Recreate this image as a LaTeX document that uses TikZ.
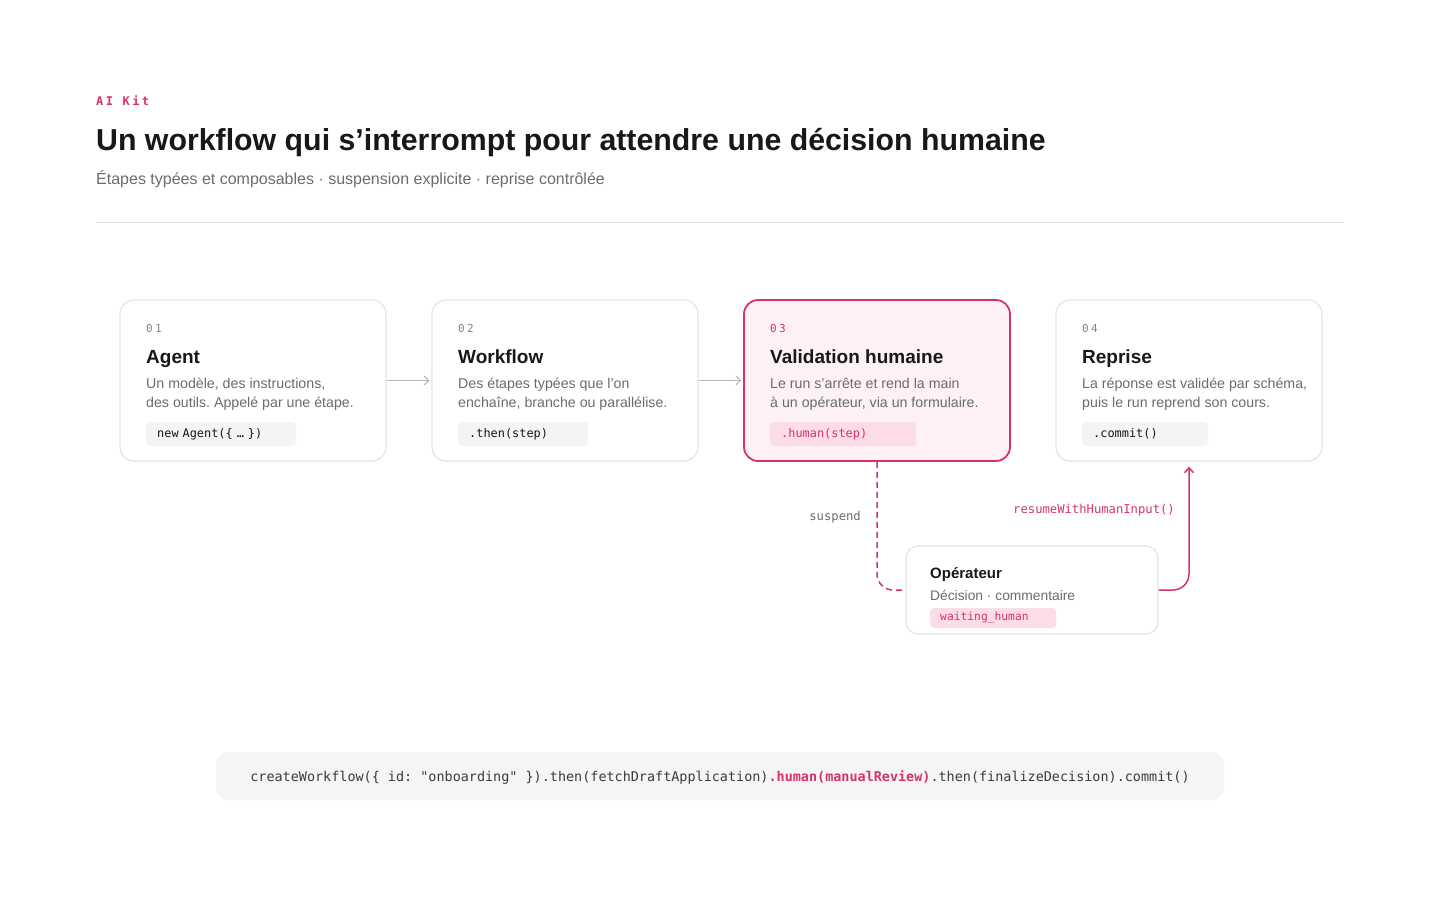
\documentclass[tikz,border=0pt]{standalone}
\usepackage{fontspec}
\usepackage{xcolor}
\setmainfont{Liberation Sans}
\newfontfamily\codefont{DejaVu Sans Mono}
\newfontfamily\trackfont[LetterSpace=20]{DejaVu Sans Mono}
\usetikzlibrary{arrows.meta}
\frenchspacing
\definecolor{wfaccent}{HTML}{D6336C}
\definecolor{wfink}{HTML}{18181B}
\definecolor{wfmuted}{HTML}{6B6B73}
\definecolor{wfnum}{HTML}{85858D}
\definecolor{wfborder}{HTML}{E4E4E7}
\definecolor{wfchip}{HTML}{F4F4F6}
\definecolor{wfpinkfill}{HTML}{FDF1F5}
\definecolor{wfpinkchip}{HTML}{FBDCE7}
\definecolor{wfarrow}{HTML}{B4B4BB}
\definecolor{wfbar}{HTML}{F5F5F7}

\begin{document}
\begin{tikzpicture}[x=1pt, y=-1pt,
    card/.style={draw=wfborder, line width=1.2pt, fill=white, rounded corners=14pt, minimum width=266pt, minimum height=161pt, inner sep=0pt},
    humancard/.style={card, draw=wfaccent, fill=wfpinkfill, line width=1.8pt},
    opcard/.style={card, minimum width=252pt, minimum height=88pt, rounded corners=12pt},
    stepnum/.style={anchor=base west, inner sep=0pt, text=wfnum, font=\trackfont\fontsize{11}{13}\selectfont},
    steptitle/.style={anchor=base west, inner sep=0pt, text=wfink, font=\bfseries\fontsize{19}{23}\selectfont},
    stepdesc/.style={anchor=north west, inner sep=0pt, align=left, text=wfmuted, font=\fontsize{14.2}{19.5}\selectfont},
    chip/.style={anchor=west, fill=wfchip, rounded corners=4pt, minimum height=24pt, inner xsep=11pt, inner ysep=0pt, align=left, text width=#1, text=wfink, font=\codefont\fontsize{11.9}{14}\selectfont},
    humanchip/.style={chip=#1, fill=wfpinkchip, text=wfaccent},
    flow/.style={-{Straight Barb[length=4.5pt,width=9pt]}, wfarrow, line width=1pt, shorten >=2pt},
    suspendline/.style={wfaccent, line width=1.5pt, dash pattern=on 6pt off 4pt, rounded corners=16pt, shorten >=3pt},
    resumeline/.style={-{Straight Barb[length=5pt,width=9pt]}, wfaccent, line width=1.5pt, rounded corners=16pt, shorten >=5pt},
    edgelabel/.style={anchor=base east, inner sep=0pt, font=\codefont\fontsize{12.2}{14}\selectfont}
  ]
  \useasboundingbox (0,0) rectangle (1440,900);

  % Header
  \node[anchor=base west, inner sep=0pt, text=wfaccent, font=\trackfont\bfseries\fontsize{12}{14}\selectfont] (kicker) at (96,105.5) {AI Kit};
  \node[anchor=base west, inner sep=0pt, text=wfink, font=\bfseries\fontsize{30.3}{34}\selectfont] (title) at (96,150) {Un workflow qui s’interrompt pour attendre une décision humaine};
  \node[anchor=base west, inner sep=0pt, text=wfmuted, font=\fontsize{16}{19}\selectfont] (subtitle) at (96,184) {Étapes typées et composables · suspension explicite · reprise contrôlée};
  \draw[wfborder, line width=1pt] (96,222) -- (1344,222);

  % Cards
  \node[card] (agent) at (253,380.5) {};
  \node[card] (workflow) at (565,380.5) {};
  \node[humancard] (human) at (877,380.5) {};
  \node[card] (reprise) at (1189,380.5) {};

  % 01 Agent
  \node[stepnum] (agentnum) at (146,332) {01};
  \node[steptitle] (agenttitle) at (146,363) {Agent};
  \node[stepdesc] (agentdesc) at (146,377.5) {Un modèle, des instructions,\\des outils. Appelé par une étape.};
  \node[chip=128pt] (agentcode) at (146,434) {new Agent(\{ … \})};

  % 02 Workflow
  \node[stepnum] (workflownum) at (458,332) {02};
  \node[steptitle] (workflowtitle) at (458,363) {Workflow};
  \node[stepdesc] (workflowdesc) at (458,377.5) {Des étapes typées que l’on\\enchaîne, branche ou parallélise.};
  \node[chip=108pt] (workflowcode) at (458,434) {.then(step)};

  % 03 Validation humaine
  \node[stepnum, text=wfaccent] (humannum) at (770,332) {03};
  \node[steptitle] (humantitle) at (770,363) {Validation humaine};
  \node[stepdesc] (humandesc) at (770,377.5) {Le run s’arrête et rend la main\\à un opérateur, via un formulaire.};
  \node[humanchip=124pt] (humancode) at (770,434) {.human(step)};

  % 04 Reprise
  \node[stepnum] (reprisenum) at (1082,332) {04};
  \node[steptitle] (reprisetitle) at (1082,363) {Reprise};
  \node[stepdesc] (reprisedesc) at (1082,377.5) {La réponse est validée par schéma,\\puis le run reprend son cours.};
  \node[chip=104pt] (reprisecode) at (1082,434) {.commit()};

  % Flow between cards
  \draw[flow] (agent) -- (workflow);
  \draw[flow] (workflow) -- (human);

  % Operator
  \node[opcard] (operator) at (1032,590) {};
  \node[anchor=base west, inner sep=0pt, text=wfink, font=\bfseries\fontsize{15}{18}\selectfont] (operatortitle) at (930,578.5) {Opérateur};
  \node[anchor=base west, inner sep=0pt, text=wfmuted, font=\fontsize{13.8}{16}\selectfont] (operatordesc) at (930,600) {Décision · commentaire};
  \node[humanchip=106pt, inner xsep=10pt, minimum height=20pt, font=\codefont\fontsize{11.3}{13}\selectfont] (operatorstate) at (930,618) {waiting\_human};

  % Suspend / resume
  \draw[suspendline] (human.south) |- (operator.west);
  \node[edgelabel, text=wfmuted] (suspendlabel) at (861,520) {suspend};
  \draw[resumeline] (operator.east) -| (reprise.south);
  \node[edgelabel, text=wfaccent] (resumelabel) at (1175,513.5) {resumeWithHumanInput()};

  % Code line
  \node[fill=wfbar, rounded corners=12pt, minimum width=1008pt, minimum height=48pt, inner sep=0pt] (codebar) at (720,776) {};
  \node[anchor=base, inner sep=0pt, text=wfink!85, font=\codefont\fontsize{13.45}{16}\selectfont] (codeline) at (720,781.5) {createWorkflow(\{ id: "onboarding" \}).then(fetchDraftApplication)\textcolor{wfaccent}{\bfseries .human(manualReview)}.then(finalizeDecision).commit()};
\end{tikzpicture}
\end{document}
